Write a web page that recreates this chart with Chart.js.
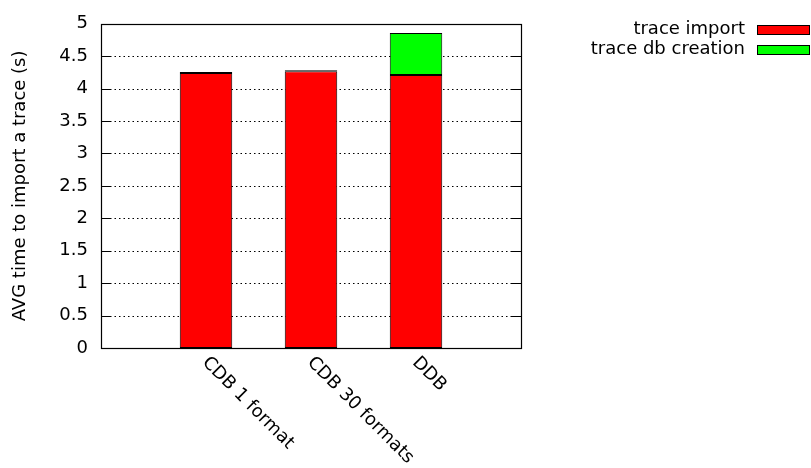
<!DOCTYPE html>
<html><head><meta charset="utf-8">
<script src="https://cdn.jsdelivr.net/npm/chart.js@4"></script>
<style>html,body{margin:0;padding:0;background:#fff}#wrap{width:811px;height:468px}</style>
</head><body><div id="wrap"><canvas id="c" width="811" height="468"></canvas></div>
<script>
const categories = ['CDB 1 format', 'CDB 30 formats', 'DDB'];
const traceImport = [4.24, 4.27, 4.21];
const traceDbCreation = [0.015, 0.015, 0.65];
const seriesNames = ['trace import', 'trace db creation'];
const seriesColors = ['#ff0000', '#00ff00'];
const yAxisTitle = 'AVG time to import a trace (s)';
const yMin = 0, yMax = 5, yStep = 0.5;

const FONT = 'DejaVu Sans';
const FS = 18;

// pad categories with empty slots so the x range runs from -1 to 3 (gnuplot style)
const labels = [''].concat(categories, ['']);
const pad = a => [null].concat(a, [null]);

const gnuplotPlugin = {
  id: 'gnuplotLook',
  beforeDatasetsDraw(chart) {
    const ctx = chart.ctx, a = chart.chartArea, ys = chart.scales.y;
    ctx.save();
    ctx.strokeStyle = '#000';
    ctx.lineWidth = 1;
    ctx.setLineDash([1.5, 3]);
    for (let v = yMin + yStep; v < yMax - 1e-9; v += yStep) {
      const y = Math.round(ys.getPixelForValue(v)) + 0.5;
      ctx.beginPath(); ctx.moveTo(a.left, y); ctx.lineTo(a.right, y); ctx.stroke();
    }
    ctx.restore();
  },
  afterDatasetsDraw(chart) {
    const ctx = chart.ctx, a = chart.chartArea, ys = chart.scales.y, xs = chart.scales.x;
    ctx.save();
    ctx.strokeStyle = '#000';
    ctx.lineWidth = 1.2;
    ctx.setLineDash([]);
    ctx.strokeRect(Math.round(a.left) + 0.5, Math.round(a.top) + 0.5,
                   Math.round(a.right - a.left), Math.round(a.bottom - a.top));
    // inward ticks (left and mirrored right)
    ctx.lineWidth = 1;
    for (let v = yMin; v <= yMax + 1e-9; v += yStep) {
      const y = Math.round(ys.getPixelForValue(v)) + 0.5;
      ctx.beginPath();
      ctx.moveTo(a.left, y); ctx.lineTo(a.left + 9, y);
      ctx.moveTo(a.right, y); ctx.lineTo(a.right - 9, y);
      ctx.stroke();
    }
    // rotated x labels
    ctx.fillStyle = '#000';
    ctx.font = FS + 'px "' + FONT + '"';
    ctx.textAlign = 'left';
    ctx.textBaseline = 'middle';
    categories.forEach((c, i) => {
      const cx = xs.getPixelForValue(i + 1);
      ctx.save();
      ctx.translate(cx - 1, a.bottom + 12);
      ctx.rotate(Math.PI / 4);
      ctx.fillText(c, 0, 0);
      ctx.restore();
    });
    // legend
    ctx.textAlign = 'right';
    seriesNames.forEach((n, i) => {
      const cy = 30 + i * 20;
      ctx.fillStyle = '#000';
      ctx.fillText(n, 745, cy - 0.5);
      ctx.fillStyle = seriesColors[i];
      ctx.fillRect(757, cy - 5, 53, 10);
      ctx.strokeRect(757.5, cy - 4.5, 52, 9);
    });
    ctx.restore();
  }
};

new Chart(document.getElementById('c'), {
  type: 'bar',
  data: {
    labels: labels,
    datasets: [
      { label: seriesNames[0], data: pad(traceImport), backgroundColor: seriesColors[0],
        borderColor: '#000', borderWidth: 1, borderSkipped: false,
        barPercentage: 0.5, categoryPercentage: 1 },
      { label: seriesNames[1], data: pad(traceDbCreation), backgroundColor: seriesColors[1],
        borderColor: '#000', borderWidth: 1, borderSkipped: false,
        barPercentage: 0.5, categoryPercentage: 1 }
    ]
  },
  options: {
    responsive: false,
    devicePixelRatio: 1,
    animation: false,
    layout: { padding: { left: 0, right: 290, top: 18, bottom: 120 } },
    plugins: { legend: { display: false }, tooltip: { enabled: false } },
    scales: {
      x: {
        type: 'category',
        display: false,
        stacked: true,
        offset: false,
        grid: { display: false }
      },
      y: {
        stacked: true,
        min: yMin, max: yMax,
        grid: { display: false, drawTicks: false },
        border: { display: false },
        ticks: { stepSize: yStep, color: '#000', padding: 13,
                 font: { family: FONT, size: FS },
                 callback: v => String(Number(Number(v).toFixed(1))) },
        title: { display: true, text: yAxisTitle, color: '#000',
                 font: { family: FONT, size: FS }, padding: { top: 10, bottom: 0 } },
        afterFit(scale) { scale.width = 101; }
      }
    }
  },
  plugins: [gnuplotPlugin]
});
</script>
</body></html>
